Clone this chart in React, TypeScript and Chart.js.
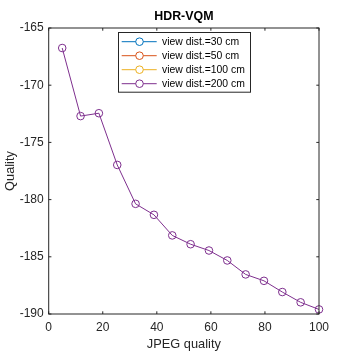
import React, { useEffect, useRef } from "react";
import { Chart, registerables } from "chart.js";

Chart.register(...registerables);

const jpegQuality = [5, 11.79, 18.57, 25.36, 32.14, 38.93, 45.71, 52.5, 59.29, 66.07, 72.86, 79.64, 86.43, 93.21, 100];
const dist30 = [-166.75, -172.7, -172.45, -176.97, -180.37, -181.33, -183.13, -183.9, -184.45, -185.32, -186.54, -187.1, -188.08, -188.98, -189.6];
const dist50 = [-166.75, -172.7, -172.45, -176.97, -180.37, -181.33, -183.13, -183.9, -184.45, -185.32, -186.54, -187.1, -188.08, -188.98, -189.6];
const dist100 = [-166.75, -172.7, -172.45, -176.97, -180.37, -181.33, -183.13, -183.9, -184.45, -185.32, -186.54, -187.1, -188.08, -188.98, -189.6];
const dist200 = [-166.75, -172.7, -172.45, -176.97, -180.37, -181.33, -183.13, -183.9, -184.45, -185.32, -186.54, -187.1, -188.08, -188.98, -189.6];

const seriesLabels = ["view dist.=30 cm", "view dist.=50 cm", "view dist.=100 cm", "view dist.=200 cm"];
const seriesColors = ["#0072BD", "#D95319", "#EDB120", "#7E2F8E"];
const seriesValues = [dist30, dist50, dist100, dist200];

const xTicks = [0, 20, 40, 60, 80, 100];
const yTicks = [-190, -185, -180, -175, -170, -165];

const chartTitle = "HDR-VQM";
const xTitle = "JPEG quality";
const yTitle = "Quality";

const FONT = "'Liberation Sans', Arial, Helvetica, sans-serif";
const AXIS_COLOR = "#262626";

const framePlugin = {
  id: "matlabFrame",
  afterDatasetsDraw(chart: any) {
    const { ctx, chartArea } = chart;
    const { left, right, top, bottom } = chartArea;
    const xs = chart.scales.x;
    const ys = chart.scales.y;
    ctx.save();
    ctx.strokeStyle = AXIS_COLOR;
    ctx.lineWidth = 1;
    ctx.strokeRect(left, top, right - left, bottom - top);
    const tl = 2.7;
    ctx.beginPath();
    xTicks.forEach((v) => {
      const px = xs.getPixelForValue(v);
      ctx.moveTo(px, bottom);
      ctx.lineTo(px, bottom - tl);
      ctx.moveTo(px, top);
      ctx.lineTo(px, top + tl);
    });
    yTicks.forEach((v) => {
      const py = ys.getPixelForValue(v);
      ctx.moveTo(left, py);
      ctx.lineTo(left + tl, py);
      ctx.moveTo(right, py);
      ctx.lineTo(right - tl, py);
    });
    ctx.stroke();

    // title
    ctx.fillStyle = "#000";
    ctx.font = `bold 12.4px ${FONT}`;
    ctx.textAlign = "center";
    ctx.textBaseline = "middle";
    ctx.fillText(chartTitle, (left + right) / 2, 16.5);
    ctx.restore();
  },
  afterDraw(chart: any) {
    const { ctx } = chart;
    ctx.save();
    const bx = 118, by = 32, bw = 132, bh = 59.7;
    ctx.fillStyle = "#fff";
    ctx.fillRect(bx, by, bw, bh);
    ctx.strokeStyle = AXIS_COLOR;
    ctx.lineWidth = 1;
    ctx.strokeRect(bx + 0.5, by + 0.5, bw, bh);
    ctx.font = `10.4px ${FONT}`;
    ctx.textAlign = "left";
    ctx.textBaseline = "middle";
    seriesLabels.forEach((lab, i) => {
      const y = 41.7 + i * 14;
      ctx.strokeStyle = seriesColors[i];
      ctx.beginPath();
      ctx.moveTo(121.7, y);
      ctx.lineTo(156.7, y);
      ctx.stroke();
      ctx.beginPath();
      ctx.arc(139.5, y, 3.8, 0, Math.PI * 2);
      ctx.fillStyle = "#fff";
      ctx.fill();
      ctx.stroke();
      ctx.fillStyle = "#000";
      ctx.fillText(lab, 162, y + 0.5);
    });
    ctx.restore();
  },
};

export default function App() {
  const ref = useRef<HTMLCanvasElement | null>(null);
  useEffect(() => {
    if (!ref.current) return;
    const last = seriesLabels.length - 1;
    const chart = new Chart(ref.current, {
      type: "line",
      data: {
        datasets: seriesLabels.map((lab, i) => ({
          label: lab,
          data: jpegQuality.map((x, j) => ({ x, y: seriesValues[i][j] })),
          order: last - i,
          // the earlier series lie exactly under the last one and are not visible in the reference
          hidden: i !== last,
          borderColor: seriesColors[i],
          backgroundColor: "transparent",
          borderWidth: 1,
          pointRadius: 3.8,
          pointBorderWidth: 1,
          pointBackgroundColor: "transparent",
          pointBorderColor: seriesColors[i],
          tension: 0,
          fill: false,
          clip: false as any,
        })),
      },
      options: {
        animation: false,
        responsive: false,
        events: [],
        layout: { padding: { top: 28, right: 35, left: 0, bottom: 0 } },
        plugins: {
          legend: { display: false },
          title: { display: false },
          tooltip: { enabled: false },
        },
        scales: {
          x: {
            type: "linear",
            min: 0,
            max: 100,
            afterFit: (s: any) => {
              s.height = 40;
            },
            afterBuildTicks: (s: any) => {
              s.ticks = xTicks.map((v) => ({ value: v }));
            },
            grid: { display: false, drawTicks: false },
            border: { display: false },
            ticks: {
              padding: 6,
              color: AXIS_COLOR,
              font: { family: FONT, size: 12 },
              maxRotation: 0,
              callback: (v: any) => String(v),
            },
            title: {
              display: true,
              text: xTitle,
              color: AXIS_COLOR,
              font: { family: FONT, size: 12.8 },
              padding: { top: 0, bottom: 1.5 },
            },
          },
          y: {
            type: "linear",
            min: -190,
            max: -165,
            afterFit: (s: any) => {
              s.width = 48.7;
            },
            afterBuildTicks: (s: any) => {
              s.ticks = yTicks.map((v) => ({ value: v }));
            },
            grid: { display: false, drawTicks: false },
            border: { display: false },
            ticks: {
              padding: 5,
              color: AXIS_COLOR,
              font: { family: FONT, size: 12 },
              callback: (v: any) => String(v),
            },
            title: {
              display: true,
              text: yTitle,
              color: AXIS_COLOR,
              font: { family: FONT, size: 12.8 },
              padding: { top: 2.5, bottom: 0 },
            },
          },
        },
      },
      plugins: [framePlugin],
    });
    return () => chart.destroy();
  }, []);
  return (
    <div style={{ position: "fixed", left: 0, top: 0, width: 354, height: 354, background: "#fff" }}>
      <canvas ref={ref} width={354} height={354} style={{ display: "block" }} />
    </div>
  );
}
